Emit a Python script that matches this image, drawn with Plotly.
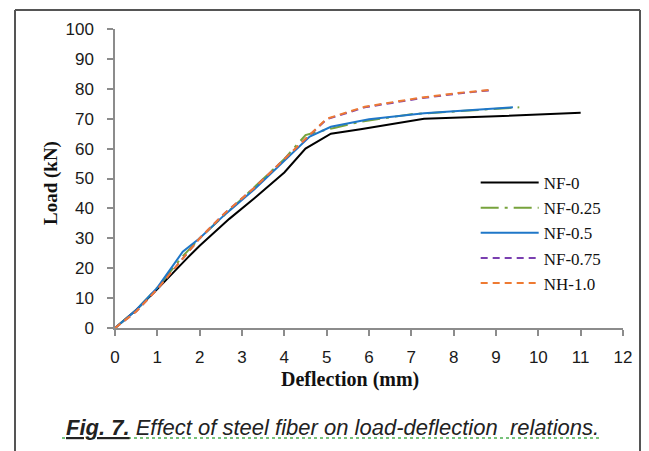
import plotly.graph_objects as go

# ---- data ----
nf0_x = [0, 0.5, 1.0, 1.5, 1.7, 2.0, 2.7, 3.3, 4.0, 4.5, 5.1, 5.8, 7.3, 9.0, 11.0]
nf0_y = [0, 6, 13, 20.5, 23.3, 27.5, 36.5, 43.5, 52, 60, 65, 66.5, 70, 70.8, 72]

nf025_x = [0, 0.5, 1.0, 1.6, 2.0, 2.6, 3.3, 4.0, 4.5, 4.7, 5.2, 5.8, 7.0, 8.5, 9.55]
nf025_y = [0, 6, 13.5, 24, 30, 38, 47, 56.5, 64.5, 65.3, 67, 69, 71.5, 72.8, 73.8]

nf05_x = [0, 0.5, 1.0, 1.6, 2.0, 2.6, 3.3, 4.0, 4.6, 5.1, 6.0, 7.3, 8.5, 9.4]
nf05_y = [0, 6, 13.5, 25.5, 30, 38, 46.5, 56, 64, 67.3, 69.8, 71.8, 72.8, 73.8]

nf075_x = [0, 0.5, 1.0, 1.6, 2.0, 2.6, 3.3, 4.0, 4.6, 5.0, 5.9, 7.2, 8.1, 8.85]
nf075_y = [0, 5.5, 13, 23, 30, 38.5, 47, 56.5, 64.5, 69.8, 73.8, 76.8, 78.4, 79.5]

nh10_x = [0, 0.5, 1.0, 1.6, 2.0, 2.6, 3.3, 4.0, 4.6, 5.0, 5.9, 7.2, 8.1, 8.85]
nh10_y = [0, 5.5, 13, 23, 30, 38.5, 47, 56.5, 64.5, 70, 74, 77, 78.6, 79.6]

x_ticks = list(range(0, 13))
y_ticks = list(range(0, 101, 10))

series = [
    ("NF-0", nf0_x, nf0_y, "#000000", "solid"),
    ("NF-0.25", nf025_x, nf025_y, "#77A33C", "18px,6px,3px,6px"),
    ("NF-0.5", nf05_x, nf05_y, "#1F77C8", "solid"),
    ("NF-0.75", nf075_x, nf075_y, "#7A3FB0", "7px,5px"),
    ("NH-1.0", nh10_x, nh10_y, "#EE7A32", "7px,5px"),
]

fig = go.Figure()
for name, xs, ys, col, dash in series:
    fig.add_trace(go.Scatter(x=xs, y=ys, mode="lines", name=name,
                             line=dict(color=col, width=2, dash=dash)))

axis_col = "#8c8c8c"
tick_font = dict(family="Liberation Sans", size=17, color="#1a1a1a")

# page has an 8px body margin: figure is offset by 8px in the window
OFF = 8
fig.update_layout(
    width=649 - OFF, height=451 - OFF,
    margin=dict(l=115 - OFF, r=26, t=29 - OFF, b=451 - OFF - (328 - OFF)),
    paper_bgcolor="white", plot_bgcolor="white",
    showlegend=True,
    legend=dict(x=0.71, y=0.545, xanchor="left", yanchor="top",
                font=dict(family="Liberation Serif", size=17, color="#111"),
                itemwidth=58, bgcolor="rgba(0,0,0,0)", tracegroupgap=0),
    xaxis=dict(range=[0, 12], tickvals=x_ticks, showgrid=False, zeroline=False,
               showline=True, linecolor=axis_col, linewidth=1.5,
               ticks="outside", ticklen=6, tickcolor=axis_col, tickwidth=1.5,
               tickfont=tick_font, ticklabelstandoff=7),
    yaxis=dict(range=[0, 100], tickvals=y_ticks, showgrid=False, zeroline=False,
               showline=True, linecolor=axis_col, linewidth=1.5,
               ticks="outside", ticklen=6, tickcolor=axis_col, tickwidth=1.5,
               tickfont=tick_font, ticklabelstandoff=10),
)

def px_x(p):
    return (p - 115) / 508.0

def px_y(p):
    return (328 - p) / 299.0

fig.add_annotation(text="<b>Deflection (mm)</b>", xref="paper", yref="paper",
                   x=px_x(350), y=px_y(380), showarrow=False,
                   xanchor="center", yanchor="middle",
                   font=dict(family="Liberation Serif", size=20, color="#111"))
fig.add_annotation(text="<b>Load (kN)</b>", xref="paper", yref="paper",
                   x=px_x(51), y=px_y(183), showarrow=False, textangle=-90,
                   xanchor="center", yanchor="middle",
                   font=dict(family="Liberation Serif", size=19, color="#111"))
fig.add_annotation(text="<i><b><u>Fig. 7.</u></b> Effect of steel fiber on load-deflection  relations.</i>",
                   xref="paper", yref="paper", x=px_x(332), y=px_y(427),
                   showarrow=False, xanchor="center", yanchor="middle",
                   font=dict(family="Liberation Sans", size=22, color="#222"))
# green spell-check underline
fig.add_shape(type="line", xref="paper", yref="paper",
              x0=px_x(62), x1=px_x(602), y0=px_y(438), y1=px_y(438),
              line=dict(color="#4caf50", width=1.5, dash="dot"))
# outer frame
fig.add_shape(type="line", xref="paper", yref="paper",
              x0=px_x(15), x1=px_x(15), y0=px_y(470), y1=px_y(10),
              line=dict(color="#555555", width=2))
fig.add_shape(type="line", xref="paper", yref="paper",
              x0=px_x(15), x1=px_x(640), y0=px_y(10), y1=px_y(10),
              line=dict(color="#555555", width=2))
fig.add_shape(type="line", xref="paper", yref="paper",
              x0=px_x(640), x1=px_x(640), y0=px_y(470), y1=px_y(10),
              line=dict(color="#555555", width=2))

fig.write_html("out.html")
